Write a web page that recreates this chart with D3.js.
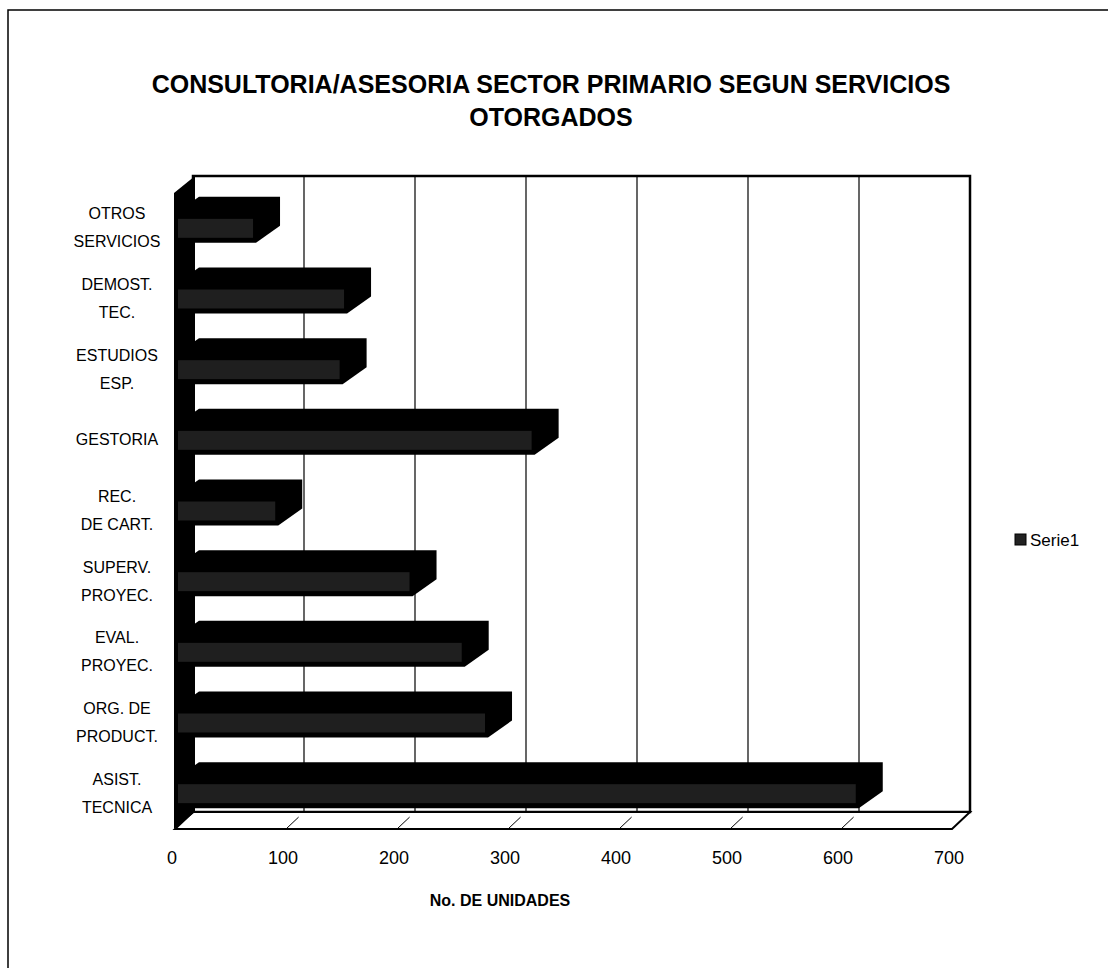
<!DOCTYPE html>
<html>
<head>
<meta charset="utf-8">
<script src="https://cdn.jsdelivr.net/npm/d3@7"></script>
<style>
  body { margin: 0; background: #fff; }
  svg { display: block; font-family: "Liberation Sans", Arial, sans-serif; }
</style>
</head>
<body>
<div id="chart"></div>
<script>
// categories top to bottom, each label split in lines
const categories = [
  ["OTROS", "SERVICIOS"],
  ["DEMOST.", "TEC."],
  ["ESTUDIOS", "ESP."],
  ["GESTORIA"],
  ["REC.", "DE CART."],
  ["SUPERV.", "PROYEC."],
  ["EVAL.", "PROYEC."],
  ["ORG. DE", "PRODUCT."],
  ["ASIST.", "TECNICA"]
];
const serie1 = [73, 155, 151, 324, 93, 214, 261, 282, 616];
const xTicks = [0, 100, 200, 300, 400, 500, 600, 700];
const titleLines = ["CONSULTORIA/ASESORIA SECTOR PRIMARIO SEGUN SERVICIOS", "OTORGADOS"];

const width = 1108, height = 968;
const wallDx = 18, wallDy = -17;   // depth of walls/floor
const barDx = 24, barDy = -17;     // depth of bars
const floorY = 829, topY = 176;

let svg = d3.select("#chart").append("svg")
  .attr("width", width)
  .attr("height", height);

// outer frame (only left and top edge visible)
svg.append("rect")
  .attr("x", 8).attr("y", 10)
  .attr("width", width + 20).attr("height", height + 20)
  .attr("fill", "none").attr("stroke", "#000").attr("stroke-width", 1.5);

// title
svg.append("g").selectAll("text")
  .data(titleLines)
  .enter().append("text")
  .attr("x", 551)
  .attr("y", (d, i) => 93 + i * 33)
  .attr("text-anchor", "middle")
  .attr("font-size", 25)
  .attr("font-weight", "bold")
  .text(d => d);

let x = d3.scaleLinear().domain([0, 700]).range([175, 952]);

let y = d3.scaleBand()
  .domain(d3.range(categories.length))
  .range([topY - wallDy, floorY])
  .paddingInner(0.59)
  .paddingOuter(0.295);

let line = d3.line();

// back wall
svg.append("rect")
  .attr("x", x(0) + wallDx).attr("y", topY)
  .attr("width", x(700) - x(0)).attr("height", floorY + wallDy - topY)
  .attr("fill", "#fff").attr("stroke", "#000").attr("stroke-width", 2.5);

// gridlines on back wall
svg.append("g").selectAll("line")
  .data(xTicks.slice(1, -1))
  .enter().append("line")
  .attr("x1", d => x(d) + wallDx).attr("x2", d => x(d) + wallDx)
  .attr("y1", topY).attr("y2", floorY + wallDy)
  .attr("stroke", "#000").attr("stroke-width", 1.2);

// floor
svg.append("path")
  .attr("d", line([[x(0), floorY], [x(700), floorY], [x(700) + wallDx, floorY + wallDy], [x(0) + wallDx, floorY + wallDy]]) + "Z")
  .attr("fill", "#fff").attr("stroke", "#000").attr("stroke-width", 2);

svg.append("g").selectAll("line")
  .data(xTicks.slice(1, -1))
  .enter().append("line")
  .attr("x1", d => x(d)).attr("y1", floorY)
  .attr("x2", d => x(d) + wallDx * 0.7).attr("y2", floorY + wallDy * 0.7)
  .attr("stroke", "#000").attr("stroke-width", 1);

// left wall
svg.append("path")
  .attr("d", line([[x(0) - 1, topY - wallDy], [x(0) + wallDx + 2, topY], [x(0) + wallDx + 2, floorY + wallDy], [x(0) - 1, floorY]]) + "Z")
  .attr("fill", "#000");

// bars
let bars = svg.append("g").selectAll("g")
  .data(serie1)
  .enter().append("g");

bars.append("path")
  .attr("d", (d, i) => {
    let x0 = x(0), x1 = x(d), y0 = y(i), y1 = y(i) + y.bandwidth();
    return line([[x0, y1], [x0, y0], [x0 + barDx, y0 + barDy], [x1 + barDx, y0 + barDy],
      [x1 + barDx, y1 + barDy], [x1, y1]]) + "Z";
  })
  .attr("fill", "#000");

bars.append("rect")
  .attr("x", x(0) + 3)
  .attr("y", (d, i) => y(i) + 5)
  .attr("width", d => x(d) - x(0) - 6)
  .attr("height", y.bandwidth() - 10)
  .attr("fill", "#1f1f1f");

// category labels
let labels = svg.append("g").selectAll("text")
  .data(categories)
  .enter().append("text")
  .attr("text-anchor", "middle")
  .attr("font-size", 16)
  .attr("fill", "#000");

labels.each(function (d, i) {
  let cy = y(i) + y.bandwidth() / 2 + 5;
  let lh = 28;
  d3.select(this).selectAll("tspan")
    .data(d)
    .enter().append("tspan")
    .attr("x", 117)
    .attr("y", (t, j) => cy + (j - (d.length - 1) / 2) * lh)
    .text(t => t);
});

// x tick labels
svg.append("g").selectAll("text")
  .data(xTicks)
  .enter().append("text")
  .attr("x", d => x(d) - 3)
  .attr("y", 864)
  .attr("text-anchor", "middle")
  .attr("font-size", 18)
  .text(d => d);

// axis title
svg.append("text")
  .attr("x", 500).attr("y", 906)
  .attr("text-anchor", "middle")
  .attr("font-size", 16)
  .attr("font-weight", "bold")
  .text("No. DE UNIDADES");

// legend
svg.append("rect")
  .attr("x", 1015).attr("y", 534)
  .attr("width", 11).attr("height", 11)
  .attr("fill", "#222").attr("stroke", "#000");
svg.append("text")
  .attr("x", 1030).attr("y", 546)
  .attr("font-size", 17)
  .text("Serie1");
</script>
</body>
</html>
